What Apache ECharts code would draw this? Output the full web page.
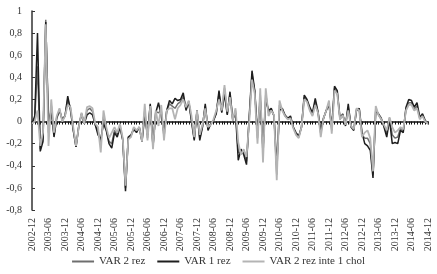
<!DOCTYPE html>
<html>
<head>
<meta charset="utf-8">
<script src="https://cdn.jsdelivr.net/npm/echarts@6/dist/echarts.min.js"></script>
<style>html,body{margin:0;padding:0;background:#fff}#c{width:437px;height:274px}</style>
</head>
<body>
<div id="c"></div>
<script>
// Monthly categories 2002-12 .. 2014-12
var categories = [];
(function(){var y=2002,m=12;while(y<2014||(y===2014&&m<=12)){categories.push(y+'-'+(m<10?'0'+m:m));m++;if(m>12){m=1;y++;}}})();

var var2rez = [-0.02,0.03,0.5,-0.25,-0.15,0.92,-0.1,0.15,-0.12,0.04,0.11,0.01,0.05,0.2,0.12,-0.07,-0.23,-0.05,0.07,-0.02,
0.1,0.12,0.09,-0.03,-0.08,-0.2,0.04,-0.07,-0.18,-0.2,-0.08,-0.12,-0.04,-0.16,-0.6,-0.15,-0.13,-0.06,-0.09,-0.05,
-0.18,0.1,-0.15,0.15,-0.23,0.09,0.08,0.1,-0.14,0.1,0.16,0.14,0.12,0.16,0.18,0.23,0.12,0.18,0.02,-0.16,
0.1,-0.15,-0.04,0.14,-0.07,-0.02,0.01,0.08,0.25,0.09,0.3,0.07,0.25,0.01,0.1,-0.28,-0.28,-0.28,-0.36,0.03,
0.43,0.27,-0.15,0.25,-0.3,0.25,0.08,0.11,0.05,-0.48,0.15,0.11,0.05,0.03,0.04,-0.05,-0.11,-0.14,-0.05,0.22,
0.19,0.11,0.06,0.18,0.08,-0.11,0.03,0.1,0.17,-0.08,0.3,0.26,0.02,0.06,-0.03,0.13,-0.04,-0.07,0.11,0.11,
-0.12,-0.15,-0.15,-0.2,-0.48,0.12,0.06,0.02,-0.04,-0.11,0.03,-0.12,-0.15,-0.14,-0.06,-0.08,0.11,0.17,0.17,0.11,
0.14,0.03,0.06,0.0,-0.02];

var var1rez = [-0.02,0.05,0.8,-0.27,-0.18,0.9,0.0,0.1,-0.14,0.03,0.1,0.02,0.05,0.23,0.1,-0.08,-0.23,-0.04,0.07,-0.02,
0.06,0.08,0.06,-0.03,-0.12,-0.16,-0.02,-0.08,-0.2,-0.24,-0.1,-0.14,-0.05,-0.17,-0.63,-0.14,-0.12,-0.07,-0.1,-0.05,
-0.18,0.05,-0.12,0.16,-0.22,0.08,0.17,0.05,-0.1,0.1,0.19,0.16,0.21,0.19,0.2,0.26,0.1,0.18,0.0,-0.17,
0.1,-0.17,-0.05,0.16,-0.08,-0.02,0.01,0.07,0.28,0.08,0.25,0.06,0.27,0.02,0.08,-0.35,-0.25,-0.3,-0.39,0.05,
0.46,0.28,-0.1,0.2,-0.25,0.2,0.1,0.12,0.05,-0.4,0.1,0.12,0.06,0.03,0.05,-0.05,-0.1,-0.13,-0.05,0.24,
0.2,0.13,0.08,0.21,0.09,-0.08,0.03,0.1,0.15,-0.05,0.32,0.28,0.03,0.07,-0.04,0.16,-0.05,-0.08,0.1,0.12,
-0.1,-0.2,-0.22,-0.26,-0.51,0.1,0.07,0.03,-0.05,-0.14,0.02,-0.2,-0.19,-0.2,-0.08,-0.1,0.13,0.2,0.19,0.13,
0.17,0.04,0.07,0.01,-0.02];

var var2chol = [-0.02,0.0,0.1,-0.22,-0.1,0.88,-0.22,0.2,-0.1,0.05,0.12,0.0,0.05,0.15,0.13,-0.05,-0.22,-0.05,0.08,-0.02,
0.13,0.14,0.12,-0.02,-0.05,-0.28,0.1,-0.05,-0.15,-0.1,-0.05,-0.1,-0.02,-0.15,-0.58,-0.16,-0.14,-0.05,-0.08,-0.05,
-0.18,0.16,-0.17,0.14,-0.25,0.1,-0.04,0.15,-0.17,0.1,0.12,0.12,0.02,0.12,0.15,0.2,0.13,0.19,0.05,-0.14,
0.1,-0.12,-0.03,0.12,-0.05,-0.03,0.02,0.1,0.2,0.1,0.33,0.09,0.22,0.01,0.12,-0.19,-0.3,-0.25,-0.32,0.0,
0.38,0.25,-0.2,0.3,-0.37,0.3,0.05,0.1,0.06,-0.53,0.19,0.1,0.05,0.02,0.03,-0.06,-0.12,-0.15,-0.05,0.2,
0.18,0.1,0.05,0.15,0.08,-0.14,0.03,0.1,0.19,-0.11,0.28,0.25,0.02,0.06,-0.03,0.1,-0.04,-0.07,0.12,0.1,
-0.14,-0.1,-0.08,-0.15,-0.45,0.14,0.06,0.02,-0.03,-0.08,0.04,-0.05,-0.1,-0.08,-0.05,-0.07,0.1,0.15,0.15,0.1,
0.12,0.02,0.05,0.0,-0.02];

var seriesNames = ['VAR 2 rez', 'VAR 1 rez', 'VAR 2 rez inte 1 chol'];
var FONT = '"Liberation Serif", "DejaVu Serif", serif';

var chart = echarts.init(document.getElementById('c'), null, {renderer: 'canvas'});
chart.setOption({
  animation: false,
  backgroundColor: '#fff',
  grid: {left: 32, right: 9, top: 11, bottom: 64, containLabel: false},
  legend: {
    bottom: 2, left: 'center',
    icon: 'rect', itemWidth: 22, itemHeight: 2, itemGap: 12,
    textStyle: {fontFamily: FONT, fontSize: 11, color: '#333'},
    data: seriesNames
  },
  xAxis: [{
    type: 'category', data: categories, boundaryGap: false,
    axisLine: {show: true, onZero: true, lineStyle: {color: '#111', width: 1.5}},
    axisTick: {show: true, interval: 0, length: 3, lineStyle: {color: '#111', width: 1}},
    axisLabel: {show: false},
    splitLine: {show: false}
  }, {
    type: 'category', data: categories, boundaryGap: false, position: 'bottom',
    axisLine: {show: false, onZero: false},
    axisTick: {show: false},
    axisLabel: {show: true, interval: 5, rotate: 90, margin: 8, fontFamily: FONT, fontSize: 10, color: '#333'},
    splitLine: {show: false}
  }],
  yAxis: {
    type: 'value', min: -0.8, max: 1, interval: 0.2,
    axisLine: {show: true, lineStyle: {color: '#333', width: 1.5}},
    axisTick: {show: true, inside: true, length: 3, lineStyle: {color: '#333'}},
    splitLine: {show: false},
    axisLabel: {
      margin: 10, fontFamily: FONT, fontSize: 10, color: '#333',
      formatter: function(v){ var r = Math.round(v*10)/10; return String(r).replace('.', ','); }
    }
  },
  series: [
    {name: seriesNames[0], type: 'line', data: var2rez, showSymbol: false, symbol: 'none', z: 2,
     lineStyle: {color: '#6e6e6e', width: 1.5}, itemStyle: {color: '#6e6e6e'}},
    {name: seriesNames[1], type: 'line', data: var1rez, showSymbol: false, symbol: 'none', z: 3,
     lineStyle: {color: '#1e1e1e', width: 1.5}, itemStyle: {color: '#1e1e1e'}},
    {name: seriesNames[2], type: 'line', data: var2chol, showSymbol: false, symbol: 'none', z: 4,
     lineStyle: {color: '#b4b4b4', width: 1.8}, itemStyle: {color: '#b4b4b4'}}
  ]
});
</script>
</body>
</html>
